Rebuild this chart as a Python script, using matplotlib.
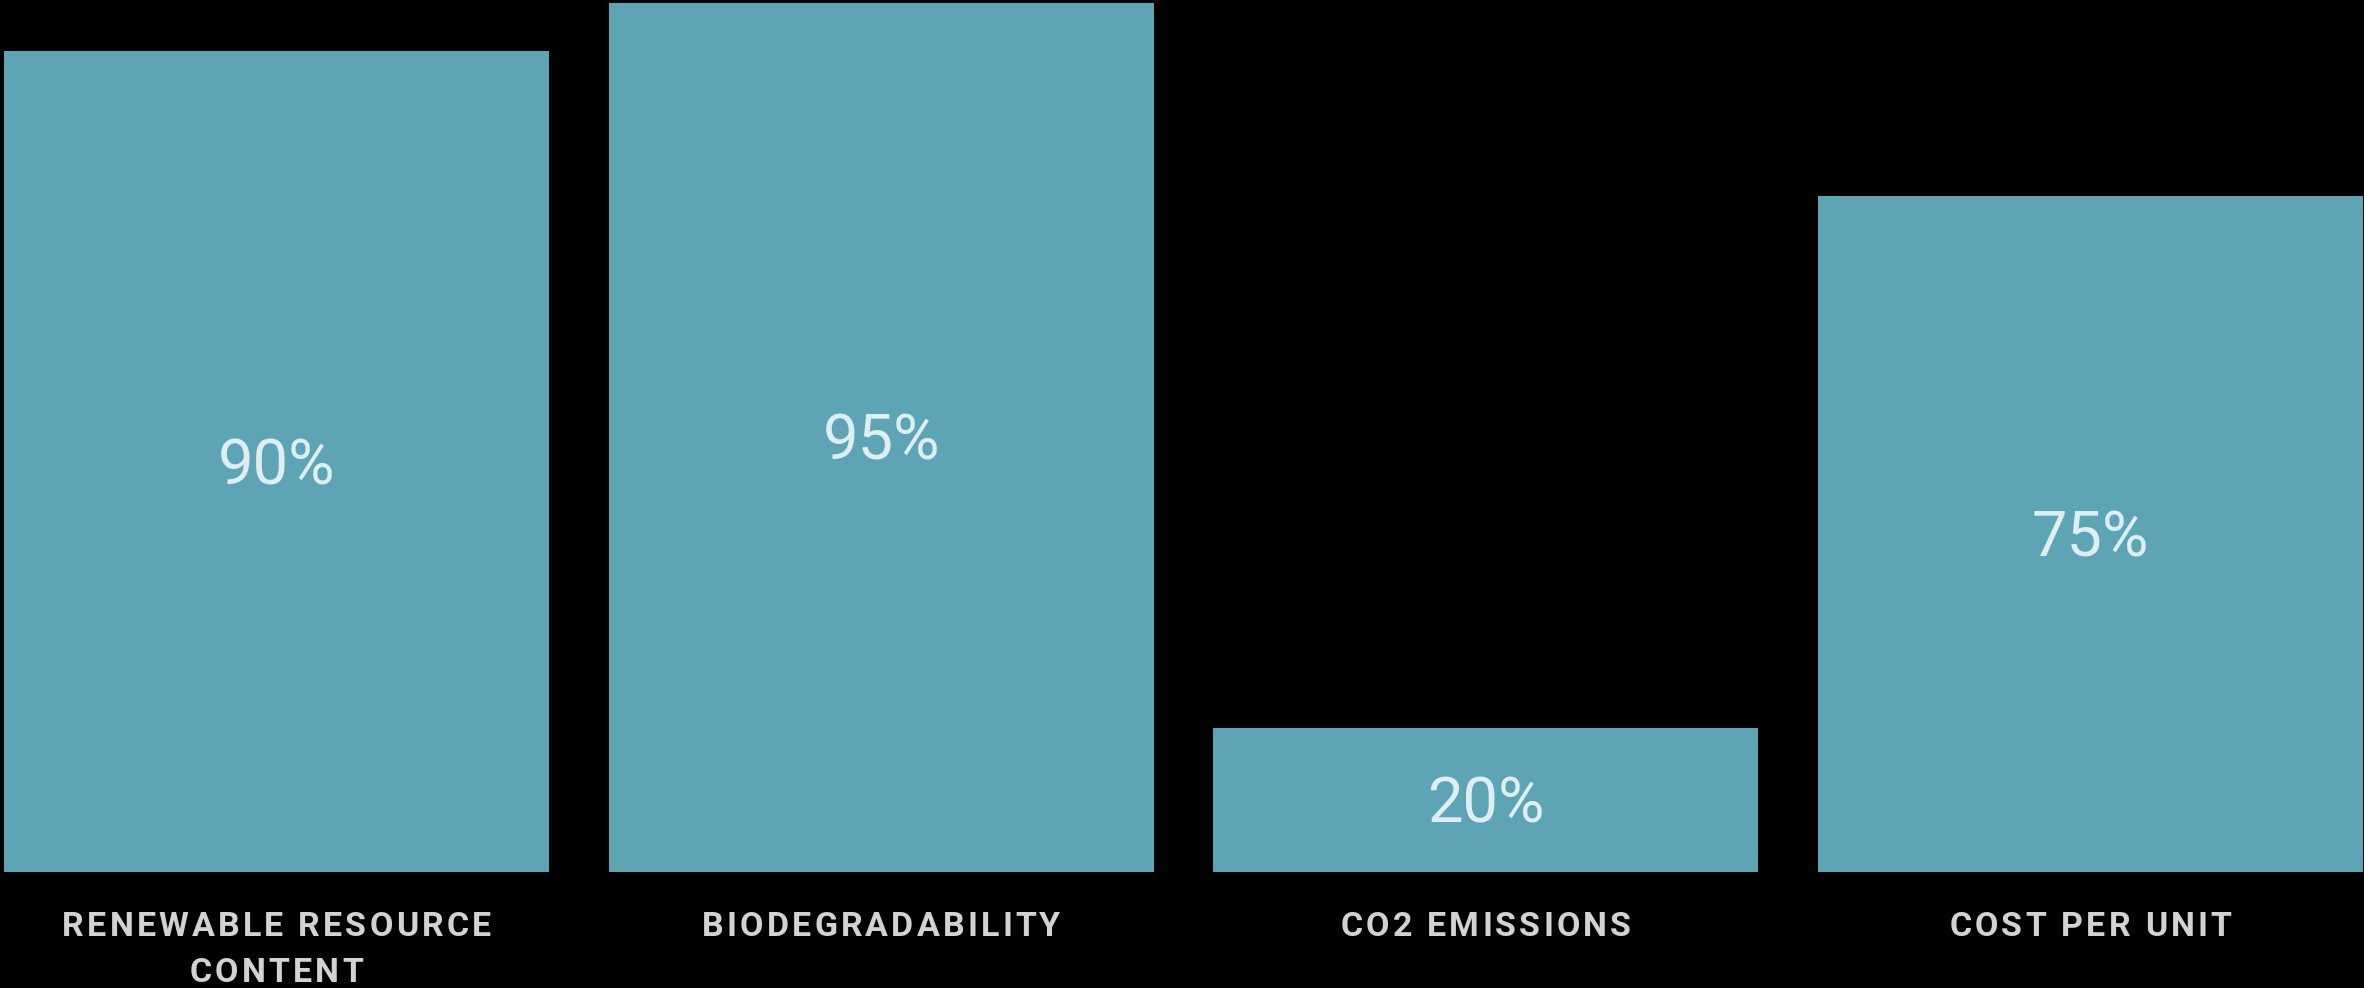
import matplotlib
matplotlib.use('Agg')
import matplotlib.pyplot as plt
from matplotlib.font_manager import FontProperties, findfont
from matplotlib.ft2font import FT2Font, LoadFlags
from matplotlib.transforms import IdentityTransform

# Dados
categorias = [['RENEWABLE RESOURCE', 'CONTENT'], ['BIODEGRADABILITY'],
              ['CO2 EMISSIONS'], ['COST PER UNIT']]
valores = [90, 95, 20, 75]
rotulos = ['90%', '95%', '20%', '75%']

DPI = 100
W, H = 2364, 988
COR_BARRA = '#5da5b5'
COR_VALOR = '#dfeef1'
COR_CAT = '#d2d2d2'
TAM_VALOR = 45.5
TAM_CAT = 24.5
ESPACO = 3.15  # espacamento entre letras, px

fig = plt.figure(figsize=(W / DPI, H / DPI), dpi=DPI, facecolor='black')
ax = fig.add_axes([0, 1 - 872 / H, 1, 872 / H])
ax.set_facecolor('black')

x = list(range(len(valores)))
ax.bar(x, valores, width=0.901, color=COR_BARRA, bottom=0)
ax.set_xlim(-0.4573, 3.4523)
ax.set_ylim(5.1, 95.3)
ax.axis('off')

# rotulos de valor no meio da barra
y0 = ax.get_ylim()[0]
for i, v in enumerate(valores):
    meio = (y0 + v) / 2
    ax.annotate(rotulos[i], xy=(i, meio), xytext=(0, -0.711 * TAM_VALOR / 2),
                textcoords='offset points', ha='center', va='baseline',
                fontsize=TAM_VALOR, family='Roboto', color=COR_VALOR)

# rotulos das categorias com espacamento entre letras
fp = FontProperties(family='Roboto', weight='bold', size=TAM_CAT)
fonte = FT2Font(findfont(fp))
fonte.set_size(TAM_CAT, DPI)


def avancos(s):
    out = []
    for ch in s:
        g = fonte.load_char(ord(ch), flags=LoadFlags.NO_HINTING)
        out.append(g.linearHoriAdvance / 65536)
    return out


def texto_espacado(cx, base, s):
    adv = avancos(s)
    total = sum(adv) + ESPACO * (len(s) - 1)
    pos = cx - total / 2
    for ch, a in zip(s, adv):
        if ch != ' ':
            fig.text(pos + a / 2, base, ch, transform=IdentityTransform(),
                     ha='center', va='baseline', fontproperties=fp, color=COR_CAT)
        pos += a + ESPACO


bases = [H - 936, H - 982]
for i, linhas in enumerate(categorias):
    cx = ax.transData.transform((i, 50))[0]
    for j, linha in enumerate(linhas):
        texto_espacado(cx, bases[j], linha)

fig.savefig('out.png', dpi=DPI, facecolor='black')
